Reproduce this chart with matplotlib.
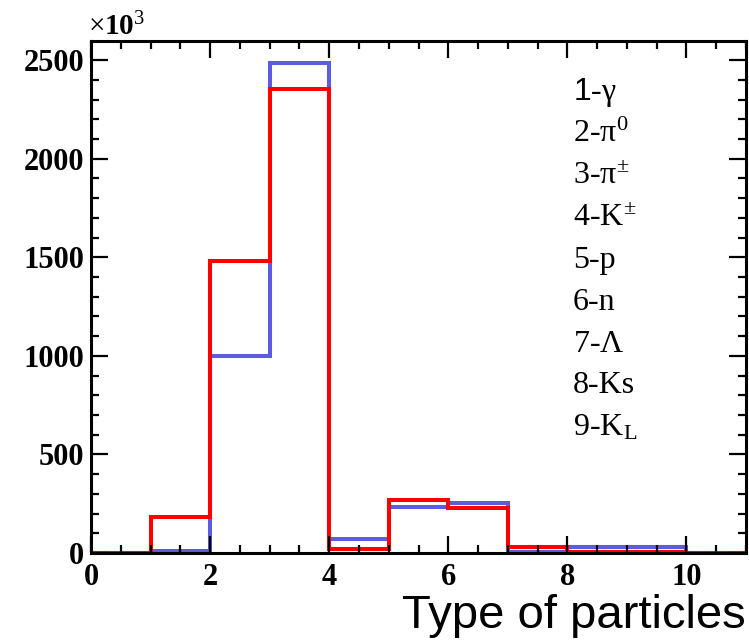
import matplotlib.pyplot as plt
import numpy as np

# particle type bins, counts in units of 10^3
edges = np.arange(0, 12)
blue_counts = [0, 8, 1000, 2485, 71, 233, 253, 5, 30, 30, 0]
red_counts = [0, 183, 1481, 2353, 20, 269, 228, 30, 5, 5, 0]
legend_lines = [r"$\mathsf{1}$-$\mathrm{γ}$", r"2-$\mathrm{π}^0$", r"3-$\mathrm{π}^{\pm}$",
                r"4-K$^{\pm}$", "5-p", "6-n", r"7-$\mathrm{Λ}$", "8-Ks", r"9-K$_\mathrm{L}$"]

plt.rcParams["mathtext.fontset"] = "custom"
plt.rcParams["mathtext.rm"] = "Liberation Serif"
plt.rcParams["mathtext.it"] = "Liberation Serif:italic"
plt.rcParams["mathtext.bf"] = "Liberation Serif:bold"
plt.rcParams["mathtext.sf"] = "Liberation Sans"
plt.rcParams["font.family"] = "Liberation Serif"

fig = plt.figure(figsize=(7.49, 6.41), dpi=100)
ax = fig.add_axes([0.1215, 0.1373, 0.8745, 0.7987])

ax.stairs(blue_counts, edges, color="#5c5ce0", lw=2.9, baseline=None)
ax.stairs(red_counts, edges, color="#ff0000", lw=2.9, baseline=None)

ax.set_xlim(0, 11)
ax.set_ylim(0, 2597)
ax.set_xticks(np.arange(0, 11, 2))
ax.set_xticks(np.arange(0, 11.01, 0.5), minor=True)
ax.set_yticks(np.arange(0, 2501, 500))
ax.set_yticks(np.arange(0, 2597, 100), minor=True)
ax.tick_params(which="both", direction="in", top=True, right=True, width=1.6)
ax.tick_params(which="major", length=12)
ax.tick_params(which="minor", length=6)
ax.tick_params(axis="x", pad=7)
ax.tick_params(axis="y", pad=5)
for lab in ax.get_xticklabels() + ax.get_yticklabels():
    lab.set_fontsize(22)
    lab.set_fontweight("bold")
for sp in ax.spines.values():
    sp.set_linewidth(2.2)

fig.text(0.117, 0.945, r"$\times$10$^{3}$", fontsize=21, fontweight="bold")
fig.text(0.995, 0.005, "Type of particles", fontsize=34,
         family="Liberation Sans", ha="right", va="bottom")

y = 0.844
for s in legend_lines:
    fig.text(0.765, y, s, fontsize=23, va="baseline")
    y -= 0.0654

fig.savefig("out.png", dpi=100)
